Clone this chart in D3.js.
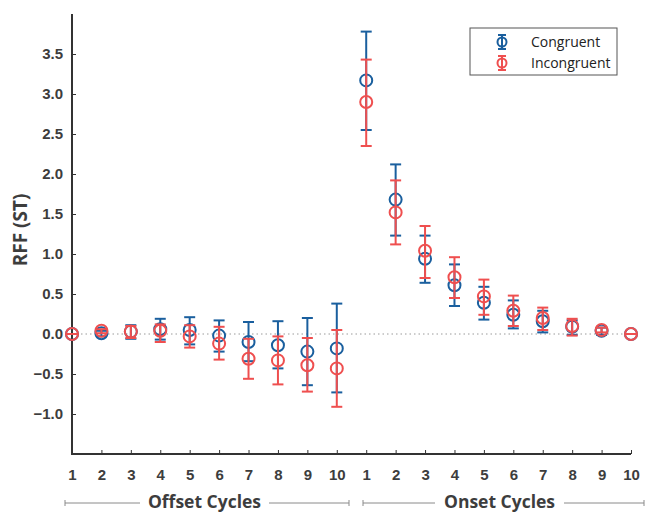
<!DOCTYPE html>
<html>
<head>
<meta charset="utf-8">
<script src="https://cdn.jsdelivr.net/npm/d3@7"></script>
<style>
  body { margin: 0; background: #fff; }
  svg { font-family: "Open Sans", "DejaVu Sans", sans-serif; }
</style>
</head>
<body>
<div id="chart"></div>
<script>
// positions 1..20 : offset cycles 1-10, then onset cycles 1-10
const positions = d3.range(1, 21);
const cycleLabels = [1, 2, 3, 4, 5, 6, 7, 8, 9, 10, 1, 2, 3, 4, 5, 6, 7, 8, 9, 10];
const yTicks = [-1.0, -0.5, 0.0, 0.5, 1.0, 1.5, 2.0, 2.5, 3.0, 3.5];

const congMean = [0, 0.01, 0.03, 0.06, 0.05, -0.02, -0.10, -0.14, -0.22, -0.18,
                  3.17, 1.68, 0.94, 0.61, 0.39, 0.24, 0.16, 0.09, 0.04, 0];
const congLow  = [0, -0.03, -0.06, -0.07, -0.13, -0.22, -0.34, -0.43, -0.64, -0.73,
                  2.55, 1.23, 0.64, 0.35, 0.18, 0.07, 0.02, -0.01, -0.01, 0];
const congHigh = [0, 0.04, 0.11, 0.19, 0.21, 0.17, 0.15, 0.16, 0.20, 0.38,
                  3.78, 2.12, 1.23, 0.87, 0.59, 0.42, 0.29, 0.17, 0.08, 0];

const incMean = [0, 0.04, 0.03, 0.04, -0.03, -0.12, -0.31, -0.33, -0.39, -0.43,
                 2.90, 1.52, 1.04, 0.71, 0.47, 0.29, 0.20, 0.10, 0.05, 0];
const incLow  = [0, 0.01, -0.05, -0.10, -0.17, -0.32, -0.56, -0.63, -0.72, -0.91,
                 2.35, 1.12, 0.70, 0.45, 0.24, 0.10, 0.05, -0.02, 0.02, 0];
const incHigh = [0, 0.06, 0.10, 0.12, 0.11, 0.09, -0.06, -0.03, -0.05, 0.05,
                 3.43, 1.92, 1.35, 0.96, 0.68, 0.48, 0.33, 0.19, 0.08, 0];

const seriesNames = ["Congruent", "Incongruent"];
const colors = ["#1a5f9e", "#ef4f4f"];

const series = [
  { name: seriesNames[0], color: colors[0], mean: congMean, low: congLow, high: congHigh },
  { name: seriesNames[1], color: colors[1], mean: incMean, low: incLow, high: incHigh }
];

const W = 645, H = 521;
const svg = d3.select("#chart").append("svg")
  .attr("width", W).attr("height", H);

const x = d3.scaleLinear().domain([1, 20]).range([72, 631]);
const y = d3.scaleLinear().domain([-1.5, 4.0]).range([454, 14]);

const axisColor = "#333";
const labelColor = "#3d3d3d";

// zero reference line
svg.append("line")
  .attr("x1", x(1)).attr("x2", x(20))
  .attr("y1", y(0)).attr("y2", y(0))
  .attr("stroke", "#9a9a9a")
  .attr("stroke-width", 1)
  .attr("stroke-dasharray", "1.5,3");

// Y axis
const yAxis = svg.append("g")
  .attr("transform", "translate(" + x(1) + ",0)")
  .call(d3.axisLeft(y).tickValues(yTicks).tickFormat(d3.format(".1f"))
    .tickSizeInner(-4).tickSizeOuter(0).tickPadding(9));
yAxis.select(".domain").remove();
yAxis.selectAll(".tick line").attr("stroke", axisColor).attr("stroke-width", 1);
yAxis.selectAll("text")
  .attr("fill", labelColor)
  .style("font-size", "15px").style("font-weight", "700");

// X axis
const xAxis = svg.append("g")
  .attr("transform", "translate(0," + y(-1.5) + ")")
  .call(d3.axisBottom(x).tickValues(positions)
    .tickFormat(function(d, i) { return cycleLabels[i]; })
    .tickSizeInner(-4).tickSizeOuter(0).tickPadding(15));
xAxis.select(".domain").remove();
xAxis.selectAll(".tick line").attr("stroke", axisColor).attr("stroke-width", 1);
xAxis.selectAll("text")
  .attr("fill", labelColor)
  .style("font-size", "15px").style("font-weight", "700");

// axis lines
svg.append("line")
  .attr("x1", x(1)).attr("x2", x(1))
  .attr("y1", y(-1.5)).attr("y2", y(4.0))
  .attr("stroke", axisColor).attr("stroke-width", 2);
svg.append("line")
  .attr("x1", x(1) - 1).attr("x2", x(20))
  .attr("y1", y(-1.5)).attr("y2", y(-1.5))
  .attr("stroke", axisColor).attr("stroke-width", 2);

// y label
svg.append("text")
  .attr("transform", "translate(27,230) rotate(-90)")
  .attr("text-anchor", "middle")
  .attr("fill", labelColor)
  .style("font-size", "19px").style("font-weight", "700")
  .text("RFF (ST)");

// cycle group brackets
const groups = [
  { label: "Offset Cycles", x0: 65, x1: 349, t0: 148, t1: 261 },
  { label: "Onset Cycles", x0: 363, x1: 644, t0: 443, t1: 556 }
];
const by = 503;
groups.forEach(function(g) {
  const b = svg.append("g").attr("stroke", "#8a8a8a").attr("stroke-width", 1);
  b.append("line").attr("x1", g.x0).attr("x2", g.t0 - 8).attr("y1", by).attr("y2", by);
  b.append("line").attr("x1", g.t1 + 8).attr("x2", g.x1).attr("y1", by).attr("y2", by);
  b.append("line").attr("x1", g.x0).attr("x2", g.x0).attr("y1", by - 3).attr("y2", by + 3);
  b.append("line").attr("x1", g.x1).attr("x2", g.x1).attr("y1", by - 3).attr("y2", by + 3);
  svg.append("text")
    .attr("x", (g.t0 + g.t1) / 2).attr("y", by + 5)
    .attr("text-anchor", "middle")
    .attr("fill", labelColor)
    .style("font-size", "17.5px").style("font-weight", "700")
    .text(g.label);
});

// error bars and markers
const capW = 5.5, r = 6;
series.forEach(function(s) {
  const g = svg.append("g").attr("stroke", s.color).attr("stroke-width", 2).attr("fill", "none");
  positions.forEach(function(p, i) {
    const cx = x(p);
    g.append("line").attr("x1", cx).attr("x2", cx)
      .attr("y1", y(s.low[i])).attr("y2", y(s.high[i]));
    g.append("line").attr("x1", cx - capW).attr("x2", cx + capW)
      .attr("y1", y(s.low[i])).attr("y2", y(s.low[i]));
    g.append("line").attr("x1", cx - capW).attr("x2", cx + capW)
      .attr("y1", y(s.high[i])).attr("y2", y(s.high[i]));
    g.append("circle").attr("cx", cx).attr("cy", y(s.mean[i])).attr("r", r);
  });
});

// legend
const lg = svg.append("g").attr("transform", "translate(470,28)");
lg.append("rect").attr("width", 147).attr("height", 47)
  .attr("fill", "#fff").attr("stroke", "#555").attr("stroke-width", 1);
series.forEach(function(s, i) {
  const ly = 14 + i * 21;
  const m = lg.append("g").attr("stroke", s.color).attr("stroke-width", 2).attr("fill", "none");
  m.append("line").attr("x1", 32).attr("x2", 32).attr("y1", ly - 7).attr("y2", ly + 7);
  m.append("line").attr("x1", 28).attr("x2", 36).attr("y1", ly - 7).attr("y2", ly - 7);
  m.append("line").attr("x1", 28).attr("x2", 36).attr("y1", ly + 7).attr("y2", ly + 7);
  m.append("circle").attr("cx", 32).attr("cy", ly).attr("r", 4.5);
  lg.append("text").attr("x", 61).attr("y", ly + 5)
    .attr("fill", "#222")
    .style("font-size", "14px")
    .text(s.name);
});
</script>
</body>
</html>
